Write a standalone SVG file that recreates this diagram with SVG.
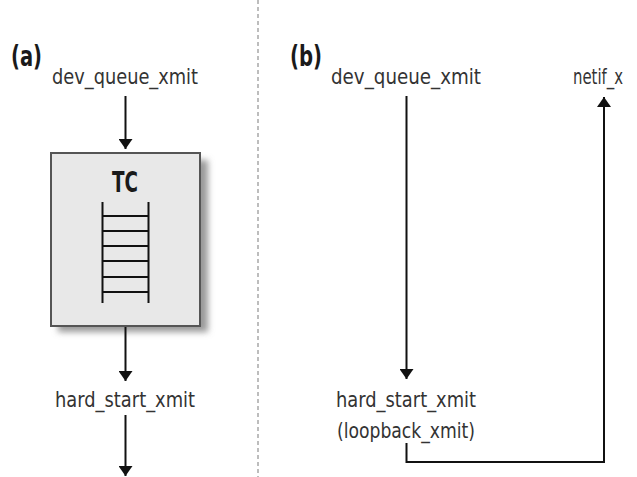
<svg xmlns="http://www.w3.org/2000/svg" width="637" height="477" viewBox="0 0 637 477">
<defs>
<style>
.lbl{font-family:"DejaVu Sans Condensed","DejaVu Sans",sans-serif;font-size:21px;fill:#333;}
.hd{font-family:"DejaVu Sans Condensed","DejaVu Sans",sans-serif;font-weight:bold;font-size:28px;fill:#1a1a1a;}
.ln{stroke:#111;stroke-width:2;fill:none;}
.rung{stroke:#111;stroke-width:2;}
</style>
<marker id="ah" viewBox="0 0 10 14" refX="10" refY="7" markerWidth="10" markerHeight="14" markerUnits="userSpaceOnUse" orient="auto">
<path d="M0,0 L10,7 L0,14 Z" fill="#111"/>
</marker>
<filter id="blur" x="-20%" y="-20%" width="140%" height="140%"><feGaussianBlur stdDeviation="3"/></filter>
</defs>
<rect width="637" height="477" fill="#fff"/>
<line x1="258" y1="0" x2="258" y2="477" stroke="#bdbdbd" stroke-width="2" stroke-dasharray="4 3"/>

<g id="panel-a">
<text class="hd" x="11" y="66" textLength="31" lengthAdjust="spacingAndGlyphs">(a)</text>
</g>
<g id="panel-b">
<text class="hd" x="290" y="66" textLength="32" lengthAdjust="spacingAndGlyphs">(b)</text>
</g>

<g id="a-dev-queue-xmit">
<text class="lbl" x="125" y="84" text-anchor="middle" textLength="146" lengthAdjust="spacingAndGlyphs">dev_queue_xmit</text>
</g>
<g id="a-tc">
<rect x="58" y="160" width="150" height="172" fill="#999" filter="url(#blur)"/>
<rect x="51" y="153" width="149" height="173" fill="#e8e8e8" stroke="#555" stroke-width="2"/>
<text class="hd" x="125" y="192" text-anchor="middle" textLength="26" lengthAdjust="spacingAndGlyphs">TC</text>
<line class="rung" x1="102.5" y1="202" x2="102.5" y2="303"/>
<line class="rung" x1="148.5" y1="202" x2="148.5" y2="303"/>
<line class="rung" x1="102" y1="216" x2="149" y2="216"/>
<line class="rung" x1="102" y1="231" x2="149" y2="231"/>
<line class="rung" x1="102" y1="246" x2="149" y2="246"/>
<line class="rung" x1="102" y1="261" x2="149" y2="261"/>
<line class="rung" x1="102" y1="277" x2="149" y2="277"/>
<line class="rung" x1="102" y1="292" x2="149" y2="292"/>
</g>
<g id="a-hard-start-xmit">
<text class="lbl" x="125" y="407" text-anchor="middle" textLength="140" lengthAdjust="spacingAndGlyphs">hard_start_xmit</text>
</g>

<g id="b-dev-queue-xmit">
<text class="lbl" x="406" y="84" text-anchor="middle" textLength="150" lengthAdjust="spacingAndGlyphs">dev_queue_xmit</text>
</g>
<g id="b-netif">
<text class="lbl" x="573" y="84" textLength="50" lengthAdjust="spacingAndGlyphs">netif_x</text>
</g>
<g id="b-hard-start-xmit">
<text class="lbl" x="406" y="407" text-anchor="middle" textLength="140" lengthAdjust="spacingAndGlyphs">hard_start_xmit</text>
<text class="lbl" x="406" y="438" text-anchor="middle" textLength="138" lengthAdjust="spacingAndGlyphs">(loopback_xmit)</text>
</g>

<g id="connectors">
<line class="ln" x1="125.5" y1="96" x2="125.5" y2="149" marker-end="url(#ah)"/>
<line class="ln" x1="125.5" y1="327" x2="125.5" y2="381" marker-end="url(#ah)"/>
<line class="ln" x1="125.5" y1="415" x2="125.5" y2="476" marker-end="url(#ah)"/>
<line class="ln" x1="406.5" y1="96" x2="406.5" y2="379" marker-end="url(#ah)"/>
<polyline class="ln" points="406.5,443 406.5,462 604,462 604,97" marker-end="url(#ah)"/>
</g>
</svg>
